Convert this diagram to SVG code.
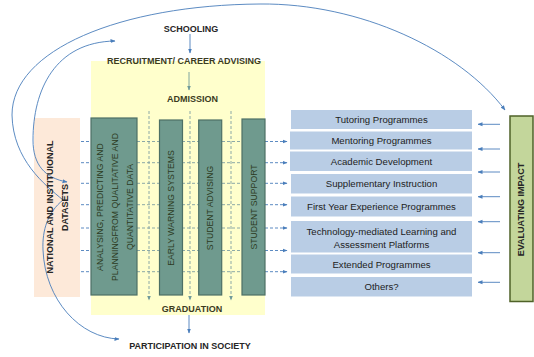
<svg xmlns="http://www.w3.org/2000/svg" width="534" height="357" viewBox="0 0 534 357">
<defs>
<style>
.hd{font-family:"Liberation Sans",Arial,sans-serif;font-weight:bold;font-size:9px;text-anchor:middle}
.dk{fill:#262626}
.ol{fill:#3b3b1e}
.col{fill:#6f9a8e;stroke:#4d7065;stroke-width:1.2}
.ct{font-family:"Liberation Sans",Arial,sans-serif;font-size:8.7px;fill:#2c3a22;text-anchor:middle}
.pb{fill:#b9cde5}
.pt{font-family:"Liberation Sans",Arial,sans-serif;font-size:9.6px;fill:#222;text-anchor:middle}
.bl{fill:none;stroke:#4a7ebb;stroke-width:0.9}
.bd{fill:none;stroke:#4a7ebb;stroke-width:0.9;stroke-dasharray:3 2}
.gd{fill:none;stroke:#7f9fa3;stroke-width:0.9;stroke-dasharray:3 2}
</style>
<marker id="ab" viewBox="0 0 10 10" refX="9" refY="5" markerWidth="5" markerHeight="5" markerUnits="userSpaceOnUse" orient="auto-start-reverse"><path d="M0,1 L10,5 L0,9 z" fill="#4a7ebb"/></marker>
<marker id="ag" viewBox="0 0 10 10" refX="9" refY="5" markerWidth="5" markerHeight="5" markerUnits="userSpaceOnUse" orient="auto"><path d="M0,1 L10,5 L0,9 z" fill="#6f9a9a"/></marker>
</defs>
<rect width="534" height="357" fill="#fff"/>

<g id="institution">
<rect x="91" y="61" width="174" height="254" fill="#ffffcc"/>
</g>
<g id="datasets">
<rect x="34" y="118" width="46" height="179" fill="#fde9d9"/>
</g>

<g id="connectors">
<!-- horizontal dashed -->
<g>
<line class="bd" x1="81" y1="141.5" x2="91" y2="141.5"/>
<line class="bd" x1="81" y1="162.7" x2="91" y2="162.7"/>
<line class="bd" x1="81" y1="183.3" x2="91" y2="183.3"/>
<line class="bd" x1="81" y1="204.7" x2="91" y2="204.7"/>
<line class="bd" x1="81" y1="228" x2="91" y2="228"/>
<line class="bd" x1="81" y1="250.5" x2="91" y2="250.5"/>
<line class="bd" x1="81" y1="271.7" x2="91" y2="271.7"/>
<line class="gd" x1="137" y1="141.5" x2="242" y2="141.5"/>
<line class="gd" x1="137" y1="162.7" x2="242" y2="162.7"/>
<line class="gd" x1="137" y1="183.3" x2="242" y2="183.3"/>
<line class="gd" x1="137" y1="204.7" x2="242" y2="204.7"/>
<line class="gd" x1="137" y1="228" x2="242" y2="228"/>
<line class="gd" x1="137" y1="250.5" x2="242" y2="250.5"/>
<line class="gd" x1="137" y1="271.7" x2="242" y2="271.7"/>
<line class="bd" x1="265" y1="141.5" x2="287" y2="141.5" marker-end="url(#ab)"/>
<line class="bd" x1="265" y1="162.7" x2="287" y2="162.7" marker-end="url(#ab)"/>
<line class="bd" x1="265" y1="183.3" x2="287" y2="183.3" marker-end="url(#ab)"/>
<line class="bd" x1="265" y1="204.7" x2="287" y2="204.7" marker-end="url(#ab)"/>
<line class="bd" x1="265" y1="228" x2="287" y2="228" marker-end="url(#ab)"/>
<line class="bd" x1="265" y1="250.5" x2="287" y2="250.5" marker-end="url(#ab)"/>
<line class="bd" x1="265" y1="271.7" x2="287" y2="271.7" marker-end="url(#ab)"/>
</g>
<!-- vertical dashed -->
<line class="gd" x1="149" y1="111" x2="149" y2="300" marker-end="url(#ag)"/>
<line class="gd" x1="190" y1="111" x2="190" y2="300" marker-end="url(#ag)"/>
<line class="gd" x1="231" y1="111" x2="231" y2="300" marker-end="url(#ag)"/>
<!-- flow arrows -->
<line class="bl" x1="190" y1="34" x2="190" y2="53" marker-end="url(#ab)"/>
<line x1="189" y1="72" x2="189" y2="90" stroke="#6f9a9a" stroke-width="0.9" marker-end="url(#ag)"/>
<line class="bl" x1="189" y1="315" x2="189" y2="333" marker-end="url(#ab)"/>
<!-- evaluation arrows -->
<line class="bl" x1="500" y1="124.3" x2="478" y2="124.3" marker-end="url(#ab)"/>
<line class="bl" x1="500" y1="149" x2="478" y2="149" marker-end="url(#ab)"/>
<line class="bl" x1="500" y1="172" x2="478" y2="172" marker-end="url(#ab)"/>
<line class="bl" x1="500" y1="196.7" x2="478" y2="196.7" marker-end="url(#ab)"/>
<line class="bl" x1="500" y1="221.7" x2="478" y2="221.7" marker-end="url(#ab)"/>
<line class="bl" x1="500" y1="252.7" x2="478" y2="252.7" marker-end="url(#ab)"/>
<line class="bl" x1="500" y1="282.3" x2="478" y2="282.3" marker-end="url(#ab)"/>
<!-- curves -->
<path class="bl" d="M63,200 C45,185 13,160 12,115 C12,50 120,5 260,4 C360,3 460,50 505,110" marker-end="url(#ab)"/>
<path class="bl" d="M67,182 C45,178 33,165 33,140 C33,90 55,42 115,41" marker-start="url(#ab)" marker-end="url(#ab)"/>
<path class="bl" d="M63,200 C48,212 42,230 43,250 C45,300 80,338 119,339" marker-end="url(#ab)"/>
</g>

<g id="datasets-label">
<text class="hd dk" font-size="9.2" transform="translate(53.3,207) rotate(-90)">NATIONAL AND INSTITUIONAL</text>
<text class="hd dk" font-size="9.2" transform="translate(68.3,207.5) rotate(-90)">DATASETS</text>
</g>

<g id="schooling"><text class="hd dk" x="191" y="32">SCHOOLING</text></g>
<g id="recruitment"><text class="hd ol" x="184" y="64">RECRUITMENT/ CAREER ADVISING</text></g>
<g id="admission"><text class="hd ol" x="192.5" y="102">ADMISSION</text></g>
<g id="graduation"><text class="hd ol" x="192" y="312">GRADUATION</text></g>
<g id="participation"><text class="hd dk" x="190" y="349">PARTICIPATION IN SOCIETY</text></g>

<g id="analysing">
<rect class="col" x="91" y="118" width="46" height="177"/>
<text class="ct" transform="translate(102.6,207) rotate(-90)">ANALYSING, PREDICTING AND</text>
<text class="ct" transform="translate(117.6,207) rotate(-90)">PLANNINGFROM QUALITATIVE AND</text>
<text class="ct" transform="translate(132.6,207) rotate(-90)">QUANTITATIVE DATA</text>
</g>
<g id="early-warning">
<rect class="col" x="159.5" y="120" width="23" height="175"/>
<text class="ct" transform="translate(174.2,208) rotate(-90)">EARLY WARNING SYSTEMS</text>
</g>
<g id="student-advising">
<rect class="col" x="198.7" y="120" width="23" height="175"/>
<text class="ct" transform="translate(213.3,208) rotate(-90)">STUDENT ADVISING</text>
</g>
<g id="student-support">
<rect class="col" x="242" y="119" width="23" height="176"/>
<text class="ct" transform="translate(256.8,207) rotate(-90)">STUDENT SUPPORT</text>
</g>

<g id="tutoring"><rect class="pb" x="291" y="110" width="181" height="19"/><text class="pt" x="381.5" y="123">Tutoring Programmes</text></g>
<g id="mentoring"><rect class="pb" x="290" y="131.5" width="182" height="18"/><text class="pt" x="381.5" y="143.8">Mentoring Programmes</text></g>
<g id="academic"><rect class="pb" x="290" y="151.5" width="182" height="19.5"/><text class="pt" x="381.5" y="164.5">Academic Development</text></g>
<g id="supplementary"><rect class="pb" x="291" y="174" width="181" height="19.5"/><text class="pt" x="381.5" y="187.3">Supplementary Instruction</text></g>
<g id="first-year"><rect class="pb" x="291" y="196.5" width="181" height="20"/><text class="pt" x="381.5" y="209.8">First Year Experience Programmes</text></g>
<g id="technology"><rect class="pb" x="291" y="221" width="181" height="31.5"/><text class="pt" x="381.5" y="235">Technology-mediated Learning and</text><text class="pt" x="381.5" y="247.5">Assessment Platforms</text></g>
<g id="extended"><rect class="pb" x="291" y="254.5" width="181" height="19"/><text class="pt" x="381.5" y="267.5">Extended Programmes</text></g>
<g id="others"><rect class="pb" x="291" y="277" width="181" height="19.5"/><text class="pt" x="381.5" y="290.3">Others?</text></g>

<g id="evaluating">
<rect x="510" y="116" width="23" height="185.5" fill="#c3d69b" stroke="#4f6228" stroke-width="1.5"/>
<text class="hd dk" font-size="7.3" transform="translate(524.1,209.5) rotate(-90)">EVALUATING IMPACT</text>
</g>
</svg>
